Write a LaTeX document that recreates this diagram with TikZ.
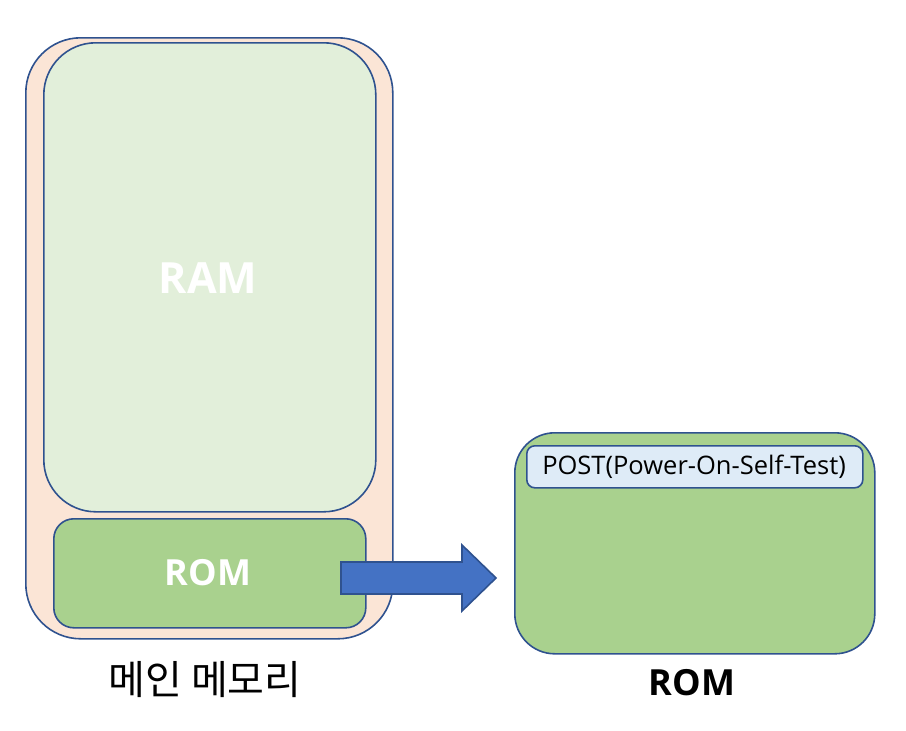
\documentclass[tikz,border=0pt]{standalone}
\usepackage{fontspec}
\setmainfont{Open Sans}
\newfontfamily\krfont{Noto Sans CJK KR}
\definecolor{edge}{HTML}{2F528F}
\definecolor{peach}{HTML}{FBE5D6}
\definecolor{palegreen}{HTML}{E2EFDA}
\definecolor{midgreen}{HTML}{A9D18E}
\definecolor{paleblue}{HTML}{DEEBF7}
\definecolor{arrowblue}{HTML}{4472C4}
\begin{document}
\begin{tikzpicture}[x=1pt,y=-1pt,
  box/.style={draw=edge,line width=1.6pt,rectangle,inner sep=0pt,anchor=north west},
  bigtext/.style={font=\bfseries\fontsize{43}{48}\selectfont,text=white},
  midtext/.style={font=\bfseries\fontsize{36}{40}\selectfont}]
\useasboundingbox (0,0) rectangle (906,731);
\node[box,fill=peach,rounded corners=55pt,minimum width=367pt,minimum height=601pt] (mem) at (25,37) {};
\node[box,fill=palegreen,rounded corners=52pt,minimum width=332pt,minimum height=469pt] (ram) at (43,42) {};
\node[bigtext] (ramlbl) at (208,278) {RAM};
\node[box,fill=midgreen,rounded corners=20pt,minimum width=312pt,minimum height=109pt] (rom) at (53,518) {};
\node[midtext,text=white] (romlbl) at (208,573) {ROM};
\node[box,fill=midgreen,rounded corners=40pt,minimum width=360pt,minimum height=221pt] (rom2) at (514,432) {};
\node[box,fill=paleblue,rounded corners=8pt,minimum width=336pt,minimum height=42pt] (post) at (526,445) {};
\node[font=\fontsize{25.5}{30}\selectfont,inner sep=0pt] (postlbl) at (694,467) {POST(Power-On-Self-Test)};
\node[midtext] (rom2lbl) at (692,683) {ROM};
\node[font=\krfont\fontsize{40}{44}\selectfont] (memlbl) at (205,680) {메인 메모리};
\draw[draw=edge,line width=1.6pt,fill=arrowblue,line join=miter]
  (341,562) -- (462,562) -- (462,545) -- (496,578) -- (462,611) -- (462,594) -- (341,594) -- cycle;
\end{tikzpicture}
\end{document}
